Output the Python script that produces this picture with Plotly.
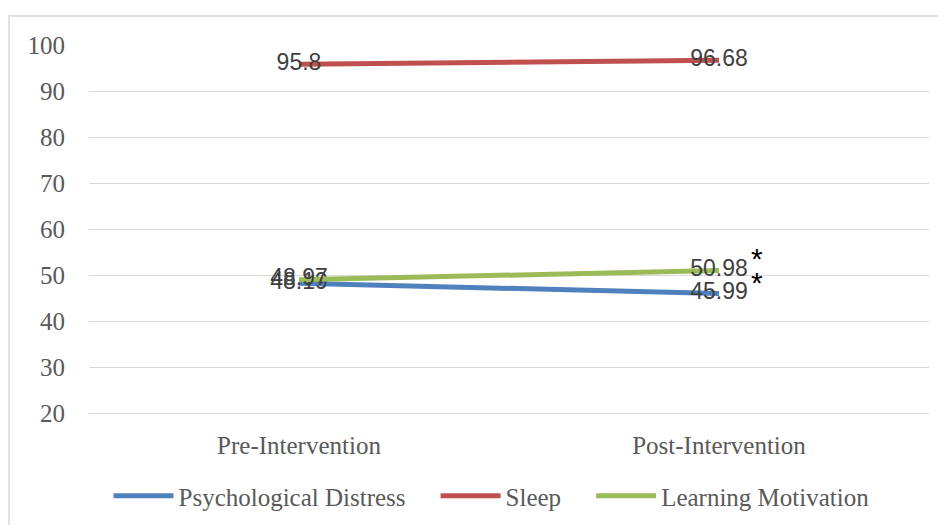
import plotly.graph_objects as go

categories = ["Pre-Intervention", "Post-Intervention"]
psych = [48.19, 45.99]
sleep = [95.8, 96.68]
motivation = [48.97, 50.98]
series_names = ["Psychological Distress", "Sleep", "Learning Motivation"]
colors = ["#4F81BD", "#C0504D", "#9BBB59"]
y_ticks = [20, 30, 40, 50, 60, 70, 80, 90, 100]

L, R, T, B = 81, 25, 37, 120
W, H = 946, 525
PW, PH = W - L - R, H - T - B
PAD = "\u00a0" * 4  # spacing between legend entries

fig = go.Figure()
for name, vals, col in zip(series_names, [psych, sleep, motivation], colors):
    fig.add_trace(go.Scatter(
        x=categories, y=vals, name=name + PAD, mode="lines+text",
        line=dict(color=col, width=5),
        text=[str(v) for v in vals], textposition="middle center",
        textfont=dict(family="Liberation Sans, Arial", size=23, color="#404040"),
    ))

# significance markers
for vals, ys in [(motivation, 12), (psych, 11)]:
    fig.add_annotation(x=categories[1], y=vals[1], text="*", showarrow=False,
                       xshift=38, yshift=ys,
                       font=dict(family="Liberation Sans, Arial", size=30, color="black"))

fig.update_layout(
    width=W, height=H,
    margin=dict(l=L, r=R, t=T, b=B),
    paper_bgcolor="white", plot_bgcolor="white",
    font=dict(family="Liberation Serif, Times New Roman, serif", size=25, color="#595959"),
    legend=dict(orientation="h", x=(496 - L) / PW, xanchor="center",
                y=(PH - 488 + T) / PH, yanchor="middle",
                itemwidth=60, font=dict(size=25, color="#595959")),
    showlegend=True,
    shapes=[dict(type="rect", xref="paper", yref="paper",
                 x0=(1 - L) / PW, x1=1.2, y0=-1.0, y1=1 + (T - 8) / PH,
                 line=dict(color="#D9D9D9", width=1.5))],
)
fig.update_xaxes(showgrid=False, showline=True, linecolor="#D9D9D9", linewidth=1,
                 ticks="", ticklabelstandoff=10, range=[-0.5, 1.5])
fig.update_yaxes(range=[20, 100], tickvals=y_ticks, showgrid=True, gridcolor="#D9D9D9",
                 gridwidth=1, zeroline=False, showline=False, ticks="",
                 ticklabelstandoff=23)

fig.write_html("out.html")
